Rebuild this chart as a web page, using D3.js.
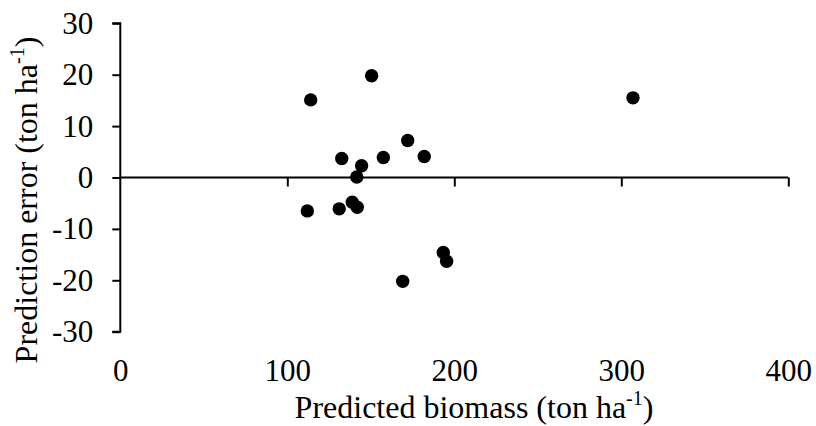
<!DOCTYPE html>
<html><head><meta charset="utf-8">
<script src="https://cdn.jsdelivr.net/npm/d3@7"></script>
<style>body{margin:0;background:#fff}svg{display:block}</style>
</head><body>
<svg id="c" width="816" height="426" style="font-family:'Liberation Serif',serif"></svg>
<script>
const predicted = [114.0,150.5,132.6,144.5,157.5,172.1,182.0,141.6,138.9,112.0,131.1,141.9,193.4,195.4,169.1,307.0];
const errors    = [15.1,19.8,3.7,2.3,3.9,7.2,4.1,0.1,-4.8,-6.5,-6.1,-5.8,-14.6,-16.3,-20.2,15.5];
const xTicks = [0,100,200,300,400];
const yTicks = [-30,-20,-10,0,10,20,30];

const FONT = "'Liberation Serif', serif";
const svg = d3.select('#c');
const x = d3.scaleLinear().domain([0,400]).range([120.3,788.3]);
const y = d3.scaleLinear().domain([-30,30]).range([331.7,23.3]);

function serif(sel, size){
  sel.attr('font-family','Liberation Serif').style('font-family',FONT).style('font-size',size+'px').attr('fill','#000');
}

// Y axis
const ya = svg.append('g').attr('transform',`translate(${x(0)},0)`)
  .call(d3.axisLeft(y).tickValues(yTicks).tickSize(8).tickPadding(19).tickFormat(d3.format('d')));
ya.attr('font-family','Liberation Serif').attr('font-size',null);
ya.select('.domain').attr('d',`M-8,${y(30)}H0V${y(-30)}H-8`).attr('stroke','#000').attr('stroke-width',2);
ya.selectAll('.tick line').attr('stroke','#000').attr('stroke-width',2);
ya.selectAll('.tick text').call(serif,31).text(d=>d<0?'-'+Math.abs(d):d);

// X axis at y=0
const xa = svg.append('g').attr('transform',`translate(0,${y(0)})`)
  .call(d3.axisBottom(x).tickValues(xTicks).tickSize(9).tickFormat(d3.format('d')));
xa.attr('font-family','Liberation Serif').attr('font-size',null);
xa.select('.domain').attr('d',`M${x(0)},0H${x(400)}`).attr('stroke','#000').attr('stroke-width',2);
xa.selectAll('.tick line').attr('stroke','#000').attr('stroke-width',2);
xa.selectAll('.tick line').filter(d=>d===0).remove();
xa.selectAll('.tick text').call(serif,31).attr('dy',null).attr('y',y(-30)-y(0)+49.5);

// points
svg.append('g').selectAll('circle').data(predicted).join('circle')
  .attr('cx',d=>x(d)).attr('cy',(d,i)=>y(errors[i])).attr('r',6.7).attr('fill','#000');

// titles
const xt = svg.append('text').attr('x',474).attr('y',418).attr('text-anchor','middle').call(serif,32);
xt.append('tspan').text('Predicted biomass (ton ha');
xt.append('tspan').style('font-size','20px').attr('dy',-13).text('-1');
xt.append('tspan').attr('dy',13).text(')');

const yt = svg.append('text').attr('transform','translate(37,200) rotate(-90)').attr('text-anchor','middle').call(serif,32);
yt.append('tspan').text('Prediction error (ton ha');
yt.append('tspan').style('font-size','20px').attr('dy',-13).text('-1');
yt.append('tspan').attr('dy',13).text(')');
</script>
</body></html>
